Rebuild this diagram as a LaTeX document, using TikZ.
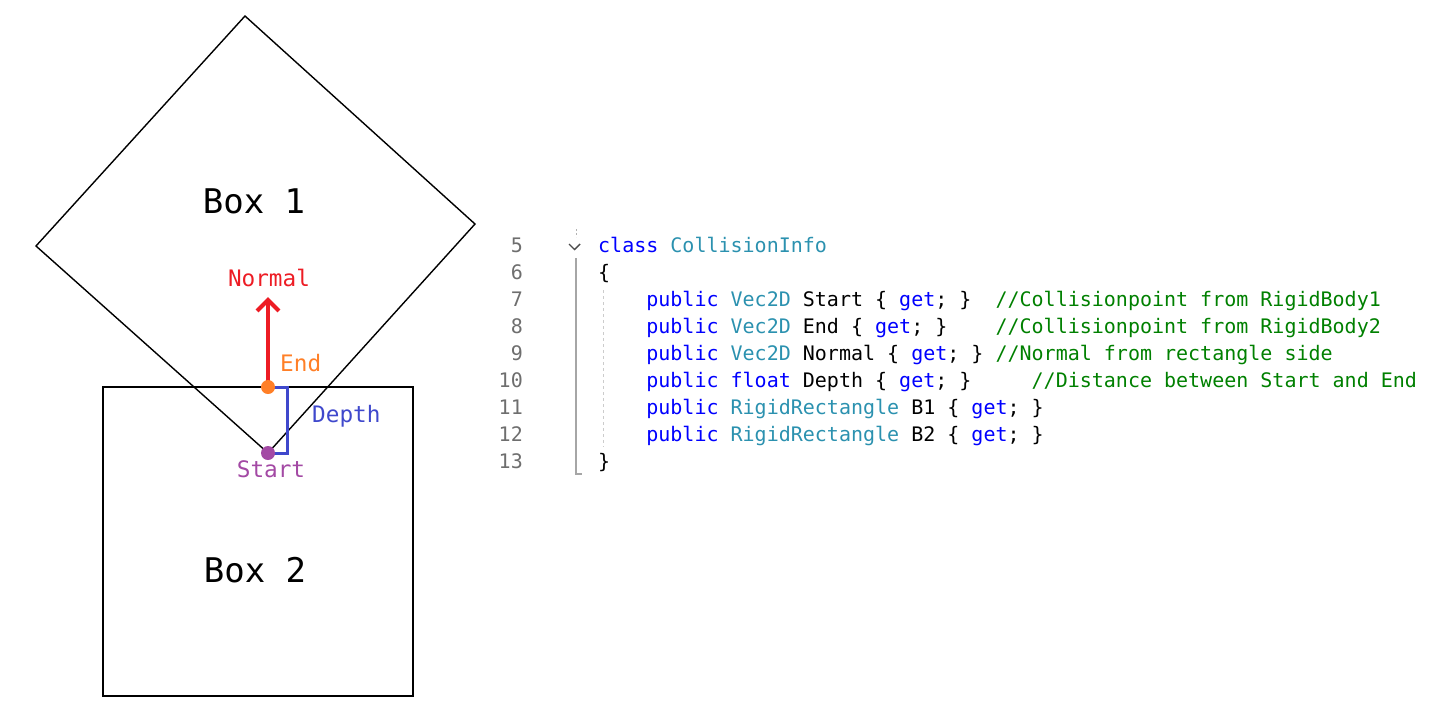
\documentclass[tikz,border=0pt]{standalone}
\usepackage{fontspec}
\setmonofont{DejaVu Sans Mono}
\usetikzlibrary{arrows.meta}
\definecolor{nred}{HTML}{ED1C24}
\definecolor{eorange}{HTML}{FF7F27}
\definecolor{spurple}{HTML}{A349A4}
\definecolor{dblue}{HTML}{3F48CC}
\definecolor{kwblue}{HTML}{0000FF}
\definecolor{tyteal}{HTML}{2B91AF}
\definecolor{cmgreen}{HTML}{008000}
\definecolor{lngray}{HTML}{6E6E6E}
\newcommand{\ckw}[1]{\textcolor{kwblue}{#1}}
\newcommand{\cty}[1]{\textcolor{tyteal}{#1}}
\newcommand{\ccm}[1]{\textcolor{cmgreen}{#1}}
\begin{document}
\begin{tikzpicture}[x=1pt,y=-1pt,
  code/.style={anchor=base west, inner sep=0pt, font=\ttfamily\fontsize{20}{24}\selectfont\frenchspacing},
  lnum/.style={anchor=base east, inner sep=0pt, text=lngray, font=\ttfamily\fontsize{20}{24}\selectfont},
  lbl/.style={anchor=base, inner sep=0pt, font=\ttfamily\fontsize{22.7}{26}\selectfont},
  lblw/.style={anchor=base west, inner sep=0pt, font=\ttfamily\fontsize{22.7}{26}\selectfont},
  boxlbl/.style={anchor=base, inner sep=0pt, font=\ttfamily\fontsize{34}{40}\selectfont},
  outl/.style={draw=black, line width=1.4pt},
  dot/.style={circle, inner sep=0pt, minimum size=14pt},
  normarrow/.style={draw=nred, line width=4.2pt, -{Straight Barb[length=11pt,width=22pt]}},
  depthline/.style={draw=dblue, line width=3pt},
]
\path[use as bounding box] (0,0) rectangle (1434,713);

% Box 1 (rotated square)
\draw[outl] (245,16) -- (475,224) -- (268,453) -- (36,246) -- cycle;
\node[boxlbl] (box1) at (254,213) {Box 1};

% Box 2
\draw[outl, line width=1.9pt] (103,387) rectangle (413,696);
\node[boxlbl] (box2) at (255,582) {Box 2};

% points
\coordinate (e) at (268,387);
\coordinate (s) at (268,453);
\coordinate (ntip) at (268,297);

\draw[normarrow] (e) -- (ntip);
\draw[depthline] ([xshift=6pt]e) -- ([xshift=19pt]e) -- ([xshift=19pt]s) -- ([xshift=6pt]s);
\node[dot, fill=eorange] (endpt) at (e) {};
\node[dot, fill=spurple] (startpt) at (s) {};

\node[lbl, text=nred] (nlbl) at (269,286) {Normal};
\node[lblw, text=eorange] (elbl) at (280,371) {End};
\node[lblw, text=dblue] (dlbl) at (312,422) {Depth};
\node[lbl, text=spurple] (slbl) at (271,477) {Start};

% editor decorations
\draw[gray!60, line width=1pt, dash pattern=on 2pt off 2pt] (576,229) -- (576,237);
\draw[black!70, line width=1.4pt] (569,244) -- (574.5,249.5) -- (580,244);
\draw[black!35, line width=1.8pt] (576,258) -- (576,474) -- (582,474);
\draw[black!20, line width=1pt, dash pattern=on 3pt off 3pt] (603,290) -- (603,447);

% line numbers
\foreach \n [count=\i from 0] in {5,...,13}
  \node[lnum] (ln\n) at (523,252+27.1*\i) {\n};

% code
\node[code] (c5) at (598,252) {\ckw{class} \cty{CollisionInfo}};
\node[code] (c6) at (598,279.1) {\{};
\node[code] (c7) at (598,306.2) {~~~~\ckw{public} \cty{Vec2D} Start \{ \ckw{get}; \}~~\ccm{//Collisionpoint from RigidBody1}};
\node[code] (c8) at (598,333.3) {~~~~\ckw{public} \cty{Vec2D} End \{ \ckw{get}; \}~~~~\ccm{//Collisionpoint from RigidBody2}};
\node[code] (c9) at (598,360.4) {~~~~\ckw{public} \cty{Vec2D} Normal \{ \ckw{get}; \}~\ccm{//Normal from rectangle side}};
\node[code] (c10) at (598,387.5) {~~~~\ckw{public} \ckw{float} Depth \{ \ckw{get}; \}~~~~~\ccm{//Distance between Start and End}};
\node[code] (c11) at (598,414.6) {~~~~\ckw{public} \cty{RigidRectangle} B1 \{ \ckw{get}; \}};
\node[code] (c12) at (598,441.7) {~~~~\ckw{public} \cty{RigidRectangle} B2 \{ \ckw{get}; \}};
\node[code] (c13) at (598,468.8) {\}};
\end{tikzpicture}
\end{document}
